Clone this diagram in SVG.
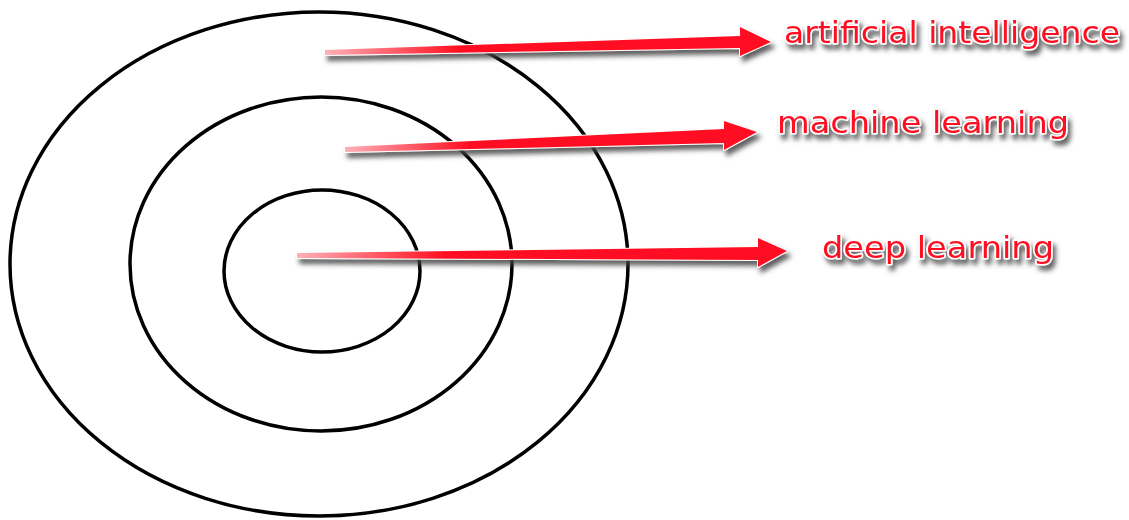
<svg xmlns="http://www.w3.org/2000/svg" width="1129" height="520" viewBox="0 0 1129 520">
<style>
.ring{fill:none;stroke:#000;stroke-width:3.5}
.lbl{font-family:"DejaVu Sans",Verdana,sans-serif;font-size:30px;fill:#ff1020;stroke:#fff;stroke-width:3;paint-order:stroke;stroke-linejoin:round}
.arr{stroke:#fff;stroke-width:2;stroke-linejoin:round;paint-order:stroke}
</style>
<defs>
<filter id="sh" x="-10%" y="-50%" width="120%" height="200%">
<feGaussianBlur in="SourceAlpha" stdDeviation="2.5" result="b"/>
<feOffset in="b" dx="3" dy="5" result="o"/>
<feFlood flood-color="#444" flood-opacity="0.85"/>
<feComposite in2="o" operator="in" result="s"/>
<feMerge><feMergeNode in="s"/><feMergeNode in="SourceGraphic"/></feMerge>
</filter>
<linearGradient id="g1" x1="0" x2="1" y1="0" y2="0">
<stop offset="0" stop-color="#ffb0b8"/>
<stop offset="0.3" stop-color="#ff1020"/>
<stop offset="1" stop-color="#ff1020"/>
</linearGradient>
</defs>
<rect width="1129" height="520" fill="#fff"/>
<g id="ai-ring"><ellipse class="ring" cx="319" cy="264" rx="309" ry="252"/></g>
<g id="ml-ring"><ellipse class="ring" cx="321" cy="264" rx="191" ry="167"/></g>
<g id="dl-ring"><ellipse class="ring" cx="322" cy="271" rx="98" ry="81"/></g>
<g id="connectors" filter="url(#sh)">
<polygon class="arr" fill="url(#g1)" points="325,50 740,36 740,27 771,42 740,56 740,48 325,55"/>
<polygon class="arr" fill="url(#g1)" points="345,147 724,129 724,121 757,132 724,150 724,143 345,152"/>
<polygon class="arr" fill="url(#g1)" points="297,253 758,247 758,238 787,251 758,267 758,260 297,258"/>
</g>
<g id="ai-label" filter="url(#sh)"><text class="lbl" x="784" y="43" textLength="336" lengthAdjust="spacingAndGlyphs">artificial intelligence</text></g>
<g id="ml-label" filter="url(#sh)"><text class="lbl" x="777" y="133" textLength="292" lengthAdjust="spacingAndGlyphs">machine learning</text></g>
<g id="dl-label" filter="url(#sh)"><text class="lbl" x="822" y="258" textLength="232" lengthAdjust="spacingAndGlyphs">deep learning</text></g>
</svg>
